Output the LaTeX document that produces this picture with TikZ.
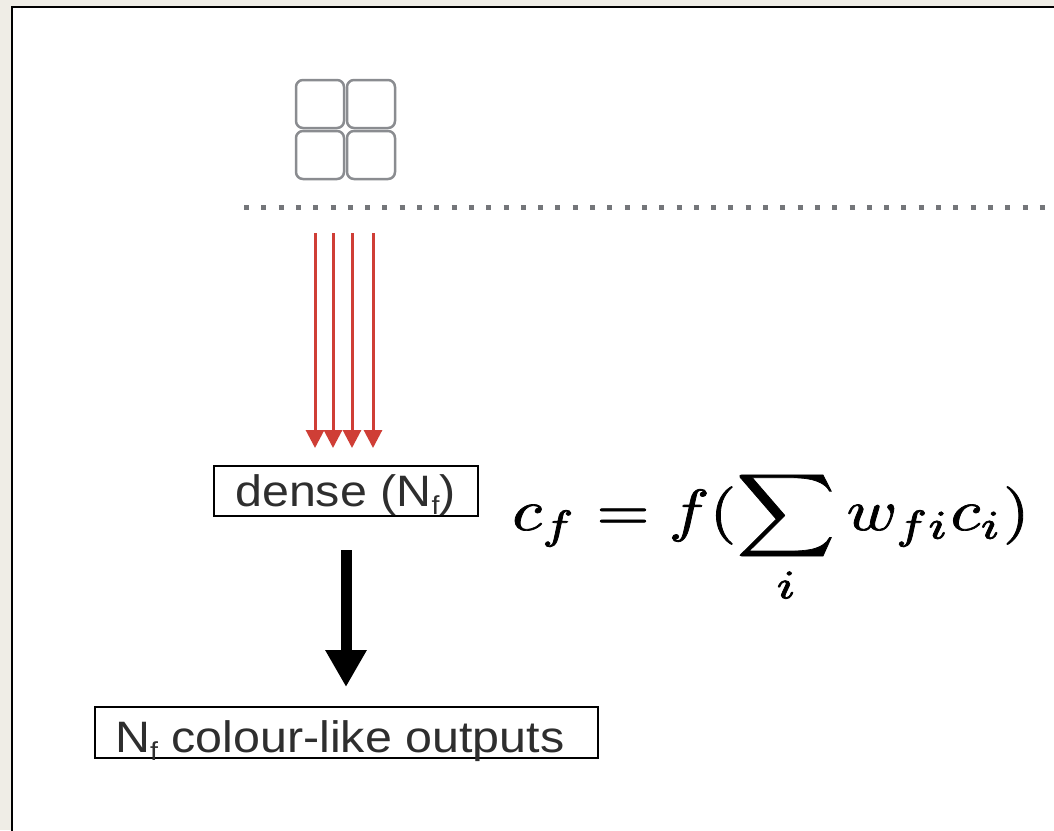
\documentclass[tikz,border=0pt]{standalone}
\usepackage[no-math]{fontspec}
\setmainfont{Liberation Sans}
\usepackage{graphicx}
\usetikzlibrary{arrows.meta}
\definecolor{bgbeige}{HTML}{EFEDE6}
\definecolor{icongray}{HTML}{8A8C90}
\definecolor{arrowred}{HTML}{CF3E36}
\definecolor{txtgray}{HTML}{2E2E2E}
\definecolor{dotgray}{HTML}{74767A}
\tikzset{
  labelbox/.style={draw=black, line width=2pt, inner sep=0pt, anchor=north west},
  labeltext/.style={text=txtgray, font=\fontsize{44}{52}\selectfont, inner sep=0pt},
  cell/.style={draw=icongray, line width=2.5pt, rounded corners=7pt},
  redarrow/.style={draw=arrowred, line width=3pt, -{Triangle[width=18pt,length=18pt]}},
  bigarrow/.style={draw=black, line width=11pt, -{Triangle[width=39pt,length=37pt]}},
}
\newcommand{\subf}{\raisebox{-0.2em}{\fontsize{26}{28}\selectfont f}}
\begin{document}
\begin{tikzpicture}[x=1pt,y=-1pt]
\useasboundingbox (0,0) rectangle (1054,830);
\fill[bgbeige] (0,0) rectangle (1054,830);
\draw[fill=white, line width=2.6pt] (12,7) rectangle (1070,850);
% icon
\draw[cell] (296,80) rectangle (344,128);
\draw[cell] (347,80) rectangle (395,128);
\draw[cell] (296,131) rectangle (344,179);
\draw[cell] (347,131) rectangle (395,179);
% dotted line
\coordinate (dl) at (244,207);
\coordinate (dr) at (1060,207);
\draw[dotgray, line width=5pt, dash pattern=on 5pt off 12.3pt] (dl) -- (dr);
% boxes
\node[labelbox, minimum width=264pt, minimum height=50pt] (dense) at (213,465) {};
\node[labeltext, anchor=base west] (densetxt) at (235,506) {\scalebox{1.1}[1]{dense (N\subf)}};
\node[labelbox, minimum width=503pt, minimum height=51pt] (out) at (94,706) {};
\node[labeltext, anchor=base west] (outtxt) at (115,752) {\scalebox{1.1}[1]{N\subf{} colour-like outputs}};
% red arrows
\foreach \x/\n in {315/a,333/b,352/c,373/d}{
  \coordinate (s\n) at (\x,233);
  \coordinate (e\n) at (\x,448);
  \draw[redarrow] (s\n) -- (e\n);
}
% big arrow
\draw[bigarrow, shorten <=33pt, shorten >=19pt] (dense.south) -- (dense.south |- out.north);
% formula
\node[anchor=base west, inner sep=0pt] (formula) at (512,530) {\scalebox{6.85}[5.8]{\special{pdf:literal direct 2 Tr 0.12 w}$\displaystyle c_f = f(\sum_i w_{fi}c_i)$\special{pdf:literal direct 0 Tr}}};
\end{tikzpicture}
\end{document}
